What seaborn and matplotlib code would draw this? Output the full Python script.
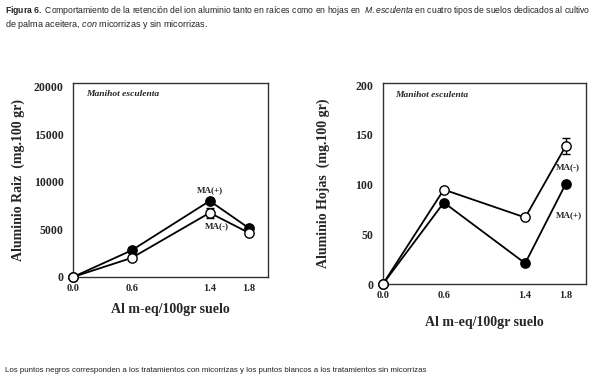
import matplotlib
matplotlib.use("Agg")
import matplotlib.pyplot as plt
from matplotlib import font_manager
import seaborn as sns
import pandas as pd

# data
al_levels = [0.0, 0.6, 1.4, 1.8]
raiz_con = [0, 2800, 8000, 5150]      # MA(+) black points
raiz_sin = [0, 2000, 6750, 4650]      # MA(-) white points
raiz_sin_err = [0, 0, 500, 0]
hojas_con = [0, 82, 21, 101]
hojas_sin = [0, 95, 67, 139]
hojas_sin_err = [0, 0, 0, 8]
tick_labels = ["0.0", "0.6", "1.4", "1.8"]

sns.set_style("white")
serif = ["Liberation Serif", "DejaVu Serif"]
try:
    font_manager.findfont("Liberation Sans Narrow", fallback_to_default=False)
    cap_font = "Liberation Sans Narrow"
except Exception:
    cap_font = "Liberation Sans"
plt.rcParams["font.family"] = serif
plt.rcParams["mathtext.fontset"] = "custom"
plt.rcParams["mathtext.rm"] = cap_font
plt.rcParams["mathtext.it"] = cap_font + ":italic"
plt.rcParams["mathtext.bf"] = cap_font + ":bold"

fig = plt.figure(figsize=(6, 3.83), dpi=100)
ax1 = fig.add_axes([0.122, 0.277, 0.325, 0.506])
ax2 = fig.add_axes([0.638, 0.258, 0.339, 0.525])


def panel(ax, con, sin, err, ylim, yticks, ylabel, ylab_x, xlab_y, note_xy):
    df = pd.DataFrame({"al": al_levels * 2, "val": con + sin,
                       "trat": ["con"] * 4 + ["sin"] * 4})
    sns.lineplot(data=df, x="al", y="val", units="trat", estimator=None,
                 color="black", lw=1.3, ax=ax, legend=False, zorder=2)
    ax.errorbar(al_levels, sin, yerr=err, fmt="none", ecolor="black",
                elinewidth=1, capsize=3, zorder=3)
    sns.scatterplot(x=al_levels, y=con, color="black", edgecolor="black",
                    s=45, linewidth=1, ax=ax, zorder=4, clip_on=False)
    sns.scatterplot(x=al_levels, y=sin, color="white", edgecolor="black",
                    s=45, linewidth=1, ax=ax, zorder=5, clip_on=False)
    ax.set_xlim(0, 2.0)
    ax.set_ylim(*ylim)
    ax.set_xticks(al_levels)
    ax.set_xticklabels(tick_labels, fontweight="bold", fontsize=7.5)
    ax.set_yticks(yticks)
    ax.set_yticklabels([str(t) for t in yticks], fontweight="bold", fontsize=8.5)
    ax.tick_params(direction="in", length=6, width=1, color="black")
    ax.tick_params(axis="y", pad=7)
    ax.tick_params(axis="x", pad=5)
    for s in ax.spines.values():
        s.set_color("#333333")
        s.set_linewidth(1)
    ax.set_xlabel("Al m-eq/100gr suelo", fontweight="bold", fontsize=10)
    ax.set_ylabel(ylabel, fontweight="bold", fontsize=10)
    ax.yaxis.set_label_coords(ylab_x, 0.5)
    ax.xaxis.set_label_coords(0.5, xlab_y)
    ax.text(note_xy[0], note_xy[1], "Manihot esculenta", transform=ax.transAxes,
            fontsize=6.8, fontweight="bold", style="italic", va="center")


panel(ax1, raiz_con, raiz_sin, raiz_sin_err, (0, 20400),
      [0, 5000, 10000, 15000, 20000], "Aluminio Raiz  (mg.100 gr)",
      -0.246, -0.134, (0.067, 0.943))
panel(ax2, hojas_con, hojas_sin, hojas_sin_err, (0, 202),
      [0, 50, 100, 150, 200], "Aluminio Hojas  (mg.100 gr)",
      -0.261, -0.156, (0.06, 0.94))

ax1.text(1.4, 9100, "MA(+)", fontsize=6.5, fontweight="bold", ha="center", va="center")
ax1.text(1.47, 5350, "MA(-)", fontsize=6.5, fontweight="bold", ha="center", va="center")
ax2.text(1.70, 118, "MA(-)", fontsize=6.5, fontweight="bold", ha="left", va="center")
ax2.text(1.70, 69, "MA(+)", fontsize=6.5, fontweight="bold", ha="left", va="center")

cap1 = fig.text(0.008, 0.99,
                r"$\bf{Figura\ 6.}$ Comportamiento de la retención del ion aluminio tanto en raíces "
                r"como en hojas en  $\it{M.esculenta}$ en cuatro tipos de suelos dedicados al cultivo",
                family=cap_font, fontsize=7, va="top", color="#222222")
cap2 = fig.text(0.008, 0.953,
                r"de palma aceitera, $\it{con}$ micorrizas y sin micorrizas.",
                family=cap_font, fontsize=7, va="top", color="#222222")
cap3 = fig.text(0.008, 0.033,
                "Los puntos negros corresponden a los tratamientos con micorrizas y los puntos "
                "blancos a los tratamientos sin micorrizas",
                family=cap_font, fontsize=7, va="center", color="#222222")

# scale caption sizes so their widths match the reference
fig.canvas.draw()
r = fig.canvas.get_renderer()
for t, w in [(cap1, 585), (cap2, 203), (cap3, 420)]:
    cur = t.get_window_extent(r).width
    t.set_fontsize(7 * w / cur)

fig.savefig("out.png", dpi=100)
